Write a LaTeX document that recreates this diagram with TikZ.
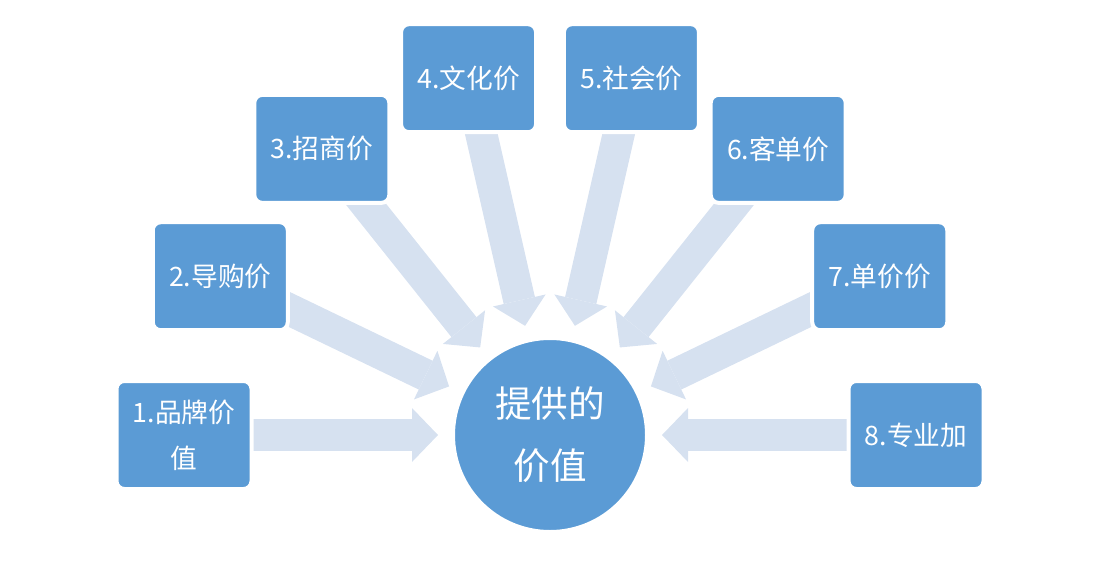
\documentclass[tikz,border=0pt]{standalone}
\usepackage{fontspec}
\setmainfont{Noto Sans CJK SC}
\usetikzlibrary{arrows.meta}
\usetikzlibrary{calc}
\usetikzlibrary{backgrounds}
\definecolor{boxblue}{RGB}{91,155,213}
\definecolor{feedblue}{RGB}{214,225,240}

\begin{document}
\begin{tikzpicture}[x=0.25mm, y=0.25mm,
    valbox/.style={rectangle, rounded corners=2mm, fill=boxblue, draw=white, line width=1mm,
      minimum width=33.75mm, minimum height=27mm, align=center, text=white,
      font=\fontsize{19pt}{32.6pt}\selectfont},
    hub/.style={circle, fill=boxblue, draw=white, line width=1mm, minimum size=48.5mm,
      align=center, text=white, font=\fontsize{26pt}{44pt}\selectfont},
    feed/.style={feedblue, line width=8mm, -{Triangle[length=6.5mm, width=13.5mm, line width=0pt]}}]
  \useasboundingbox (0,0) rectangle (1100,572);
  % centre
  \node[hub] (c) at (550,137) {提供的\\价值};
  % the eight values, spread evenly over the upper half
  \foreach \i/\txt in {1/{1.品牌价\\值}, 2/2.导购价, 3/3.招商价, 4/4.文化价,
                      5/5.社会价, 6/6.客单价, 7/7.单价价, 8/8.专业加}
  {
    \pgfmathsetmacro{\a}{180-(\i-1)*180/7}
    \node[valbox] (v\i) at ($(c)+(\a:366)$) {\txt};
    \coordinate (t\i) at ($(c)+(\a:112)$);
    % arrow into the centre, tail hidden under the box
    \begin{scope}[on background layer]
      \draw[feed] (v\i.center) -- (t\i);
    \end{scope}
  }
\end{tikzpicture}
\end{document}
